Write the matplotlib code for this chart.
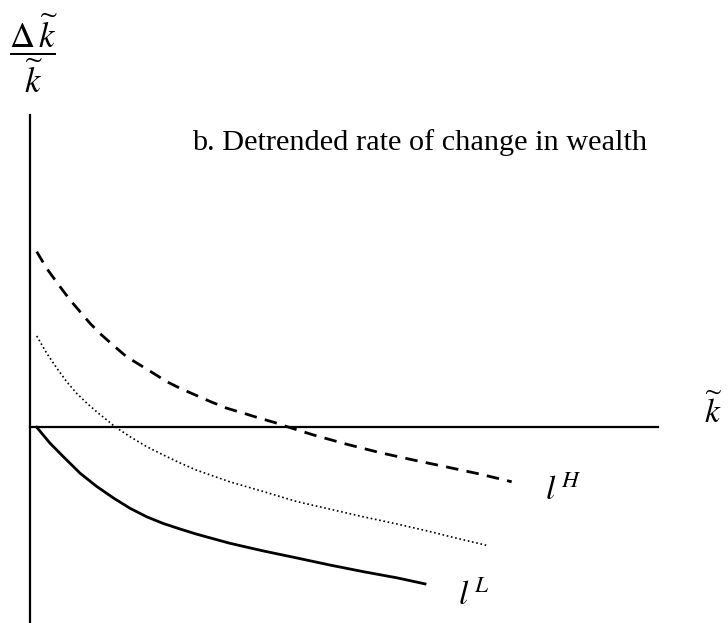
import numpy as np
import matplotlib.pyplot as plt

plt.rcParams['mathtext.fontset'] = 'stix'
plt.rcParams['font.family'] = ['Liberation Serif', 'DejaVu Serif']

# curves (k-tilde, detrended rate of change)
k_H = [1.07, 2.66, 4.78, 6.37, 7.96, 9.55, 11.4, 13.5, 15.4, 17.5, 19.6, 21.8, 23.9,
       26.3, 28.7, 31.3, 34.0, 36.6, 39.0, 40.9, 45.1, 50.4, 55.7, 61.0, 66.4, 71.7, 76.7]
r_H = [34.5, 31.2, 27.6, 25.0, 22.7, 20.4, 18.1, 15.8, 13.8, 12.2, 10.6, 8.9, 7.6,
       6.3, 5.0, 3.7, 2.7, 1.7, 0.85, 0.06, -1.57, -3.4, -5.06, -6.5, -7.9, -9.3, -10.8]

k_M = [1.07, 2.66, 4.25, 5.84, 7.44, 9.03, 10.6, 12.2, 13.5, 15.9, 18.6, 21.2,
       23.9, 26.5, 31.8, 37.1, 42.5, 47.8, 53.1, 58.4, 63.7, 66.9, 73.0]
r_M = [17.9, 14.5, 11.6, 8.9, 6.6, 4.7, 3.0, 1.4, 0.06, -1.9, -3.9, -5.5,
       -7.1, -8.5, -10.8, -12.7, -14.7, -16.2, -17.7, -19.1, -20.6, -21.6, -23.4]

k_L = [1.07, 3.18, 5.3, 7.96, 10.6, 13.3, 15.9, 18.6, 21.2, 23.9, 26.5, 31.8,
       37.1, 42.5, 47.8, 53.1, 58.4, 62.9]
r_L = [-0.06, -3.2, -5.85, -9.1, -11.7, -14.0, -16.0, -17.7, -19.0, -20.1, -21.1, -22.9,
       -24.4, -25.8, -27.2, -28.5, -29.7, -30.9]

W, H = 728, 623
fig = plt.figure(figsize=(W / 100, H / 100), dpi=100)
ax = fig.add_axes([30 / W, 0, 628 / W, 508 / H])
ax.set_xlim(0, 100)
ax.set_ylim(-38.6, 61.4)

ax.plot(k_H, r_H, color='black', lw=2, ls=(0, (4.5, 3)))
ax.plot(k_M, r_M, color='black', lw=1.2, ls=(0, (1, 1.6)))
ax.plot(k_L, r_L, color='black', lw=2)

for s in ['top', 'right']:
    ax.spines[s].set_visible(False)
ax.spines['bottom'].set_position(('data', 0))
ax.spines['left'].set_linewidth(1.6)
ax.spines['bottom'].set_linewidth(1.6)
ax.set_xticks([])
ax.set_yticks([])

def px(x, y):
    return x / W, 1 - y / H

fig.text(*px(192, 150), 'b. Detrended rate of change in wealth', fontsize=21.8,
         ha='left', va='baseline')
fig.text(*px(33, 53), r'$\dfrac{\Delta\,\widetilde{k}}{\widetilde{k}}$', fontsize=25,
         ha='center', va='center')
fig.text(*px(713, 412), r'$\widetilde{k}$', fontsize=24, ha='center', va='center')
fig.text(*px(545, 500), r'$l^{\,H}$', fontsize=24, ha='left', va='baseline')
fig.text(*px(458, 605), r'$l^{\,L}$', fontsize=24, ha='left', va='baseline')

fig.savefig('out.png', dpi=100, facecolor='white')
